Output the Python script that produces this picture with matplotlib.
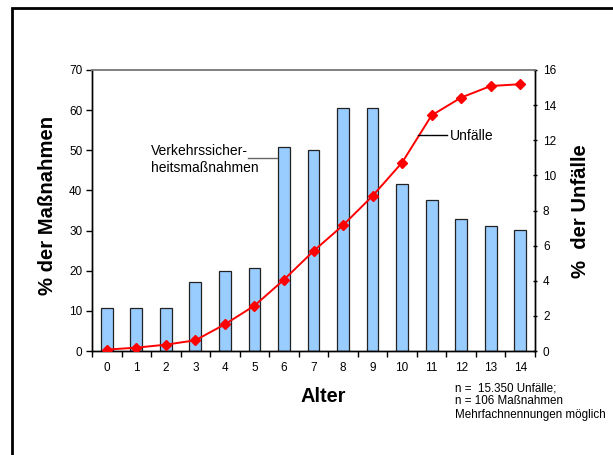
import matplotlib
matplotlib.use("Agg")
import matplotlib.pyplot as plt
from matplotlib.lines import Line2D
import numpy as np

plt.rcParams['font.family'] = ['Liberation Sans', 'DejaVu Sans']

ages = list(range(15))
massnahmen = [10.6, 10.6, 10.6, 17.1, 19.9, 20.8, 50.9, 50.1, 60.5, 60.5, 41.6, 37.7, 33.0, 31.1, 30.2]
unfaelle = [0.08, 0.19, 0.36, 0.61, 1.52, 2.58, 4.06, 5.69, 7.16, 8.83, 10.73, 13.42, 14.43, 15.09, 15.19]
left_ticks = [0, 10, 20, 30, 40, 50, 60, 70]
right_ticks = [0, 2, 4, 6, 8, 10, 12, 14, 16]

W, H = 613, 455
fig = plt.figure(figsize=(W / 100, H / 100), dpi=100)
fig.patch.set_facecolor('white')

# axes box in pixels: x 92..535, y 70..351
ax = fig.add_axes([92 / W, 1 - 351 / H, (535 - 92) / W, (351 - 70) / H])
ax2 = ax.twinx()

x = np.arange(len(ages))
ax.bar(x, massnahmen, width=0.4, color='#99CCFF', edgecolor='#222222', linewidth=0.9, zorder=2)
ax.set_xlim(-0.5, len(ages) - 0.5)
ax.set_ylim(0, 70)
ax.set_yticks(left_ticks)
ax.set_xticks(x)
ax.set_xticklabels([str(a) for a in ages])
ax.set_xticks(np.arange(-0.5, len(ages), 1.0), minor=True)
ax.tick_params(axis='x', which='major', length=0, pad=8, labelsize=8.5, colors='black')
ax.tick_params(axis='x', which='minor', length=4, width=1, direction='out', color='black')
ax.tick_params(axis='y', length=4, width=1, direction='out', labelsize=8.5, pad=3)

ax2.plot(x, unfaelle, color='#FF0000', linewidth=1.4, marker='D', markersize=5.5,
         markerfacecolor='#FF0000', markeredgecolor='#FF0000', zorder=3)
ax2.set_ylim(0, 16)
ax2.set_yticks(right_ticks)
ax2.tick_params(axis='y', length=3.5, width=1, direction='inout', labelsize=8.5, pad=4)

for a in (ax, ax2):
    a.spines['top'].set_color('#808080')
    a.spines['top'].set_linewidth(1.2)
    a.spines['left'].set_linewidth(1.0)
    a.spines['right'].set_linewidth(1.0)
    a.spines['bottom'].set_linewidth(1.0)
ax2.set_zorder(ax.get_zorder() + 1)
ax2.patch.set_visible(False)

# axis titles
fig.text(48 / W, 1 - 205 / H, '% der Maßnahmen', rotation=90, ha='center', va='center',
         fontsize=14.6, fontweight='bold')
fig.text(580 / W, 1 - 211 / H, '%  der Unfälle', rotation=90, ha='center', va='center',
         fontsize=14.6, fontweight='bold')
fig.text(323 / W, 1 - 397 / H, 'Alter', ha='center', va='center', fontsize=14.4, fontweight='bold')

# series labels with leader lines
fig.text(151 / W, 1 - 159.5 / H, 'Verkehrssicher-\nheitsmaßnahmen', ha='left', va='center',
         fontsize=10, linespacing=1.2)
fig.add_artist(Line2D([248 / W, 277 / W], [1 - 158 / H, 1 - 158 / H], color='#666666', linewidth=1))
fig.text(450 / W, 1 - 136 / H, 'Unfälle', ha='left', va='center', fontsize=10)
fig.add_artist(Line2D([418 / W, 447 / W], [1 - 135 / H, 1 - 135 / H], color='black', linewidth=1))

# sample note
fig.text(455 / W, 1 - 401.5 / H, 'n =  15.350 Unfälle;\nn = 106 Maßnahmen\nMehrfachnennungen möglich',
         ha='left', va='center', fontsize=8.4, linespacing=1.15)

# outer frame
fig.add_artist(Line2D([11.5 / W, 11.5 / W, 1.0], [0.0, 1 - 7.5 / H, 1 - 7.5 / H],
                      color='black', linewidth=2, solid_joinstyle='miter'))

fig.savefig('out.png', dpi=100)
